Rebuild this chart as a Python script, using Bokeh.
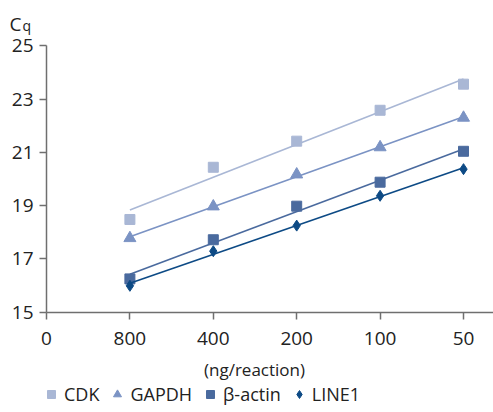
import numpy as np
from bokeh.plotting import figure
from bokeh.models import (Range1d, FixedTicker, Legend, LegendItem, Label)
from bokeh.embed import file_html
from bokeh.resources import INLINE

# ---- data ----
x_labels = ["0", "800", "400", "200", "100", "50"]
x_pos = [1, 2, 3, 4, 5]
cdk = [18.48, 20.44, 21.42, 22.58, 23.56]
gapdh = [17.78, 18.97, 20.17, 21.19, 22.30]
bactin = [16.25, 17.72, 18.98, 19.88, 21.04]
line1 = [15.99, 17.29, 18.25, 19.37, 20.37]
y_ticks = [15, 17, 19, 21, 23, 25]

series = [
    ("CDK", cdk, "square", 10, "#a9b7d5"),
    ("GAPDH", gapdh, "triangle", 12, "#7b93c4"),
    ("β-actin", bactin, "square", 10, "#4a6a9e"),
    ("LINE1", line1, "diamond", 11, "#0d4a85"),
]

FONT = "Open Sans"
W, H = 493, 412
X0_PX, UX = 46.0, 83.4          # pixel of x=0, pixels per category step
Y15_PX, UY = 311.7, 26.64       # pixel of y=15, pixels per unit

x_start = -X0_PX / UX
x_end = (W - X0_PX) / UX
y_start = 15 - (H - Y15_PX) / UY
y_end = 15 + Y15_PX / UY

p = figure(width=W, height=H, output_backend="svg", toolbar_location=None,
           x_range=Range1d(x_start, x_end), y_range=Range1d(y_start, y_end),
           min_border=0)
p.outline_line_color = None
p.grid.visible = False
p.background_fill_color = "white"
p.border_fill_color = "white"

for ax in (p.xaxis[0], p.yaxis[0]):
    ax.axis_line_color = "#6f6f6f"
    ax.axis_line_width = 1.5
    ax.major_tick_line_color = "#6f6f6f"
    ax.major_tick_line_width = 1.5
    ax.major_tick_out = 7
    ax.major_tick_in = 0
    ax.minor_tick_line_color = None
    ax.major_label_text_font = FONT
    ax.major_label_text_font_size = "19px"
    ax.major_label_text_color = "#222222"

p.xaxis.fixed_location = 15
p.xaxis.bounds = (0, x_end)
p.xaxis.ticker = FixedTicker(ticks=list(range(len(x_labels))))
p.xaxis.major_label_overrides = {i: s for i, s in enumerate(x_labels)}
p.xaxis.major_label_standoff = 13
p.yaxis.fixed_location = 0
p.yaxis.bounds = (15, 25)
p.yaxis.ticker = FixedTicker(ticks=y_ticks)
p.yaxis.major_label_standoff = 6

items = []
xs = np.array(x_pos, dtype=float)
for name, ys, marker, size, color in series:
    k, b = np.polyfit(xs, np.array(ys), 1)
    p.line([xs[0], xs[-1]], [k * xs[0] + b, k * xs[-1] + b],
           line_color=color, line_width=1.6)
    r = p.scatter(x_pos, ys, marker=marker, size=size, fill_color=color,
                  line_color=color)
    items.append(LegendItem(label=name, renderers=[r]))

legend = Legend(items=items, orientation="horizontal", location=(41, 6),
                padding=0, margin=0, spacing=8, label_standoff=3,
                glyph_width=20, glyph_height=22,
                border_line_color=None, background_fill_alpha=0,
                label_text_font=FONT, label_text_font_size="18px",
                label_text_color="#222222")
p.add_layout(legend, "center")

p.add_layout(Label(x=254, y=H - 368.5, x_units="screen", y_units="screen",
                   text="(ng/reaction)", text_align="center",
                   text_baseline="middle", text_font=FONT,
                   text_font_size="17px", text_color="#222222"))
p.add_layout(Label(x=9, y=H - 23, x_units="screen", y_units="screen",
                   text="C", text_align="left", text_baseline="alphabetic",
                   text_font=FONT, text_font_size="19px",
                   text_color="#222222"))
p.add_layout(Label(x=22, y=H - 25, x_units="screen", y_units="screen",
                   text="q", text_align="left", text_baseline="alphabetic",
                   text_font=FONT, text_font_size="14px",
                   text_color="#222222"))

open("out.html", "w").write(file_html(p, INLINE))
